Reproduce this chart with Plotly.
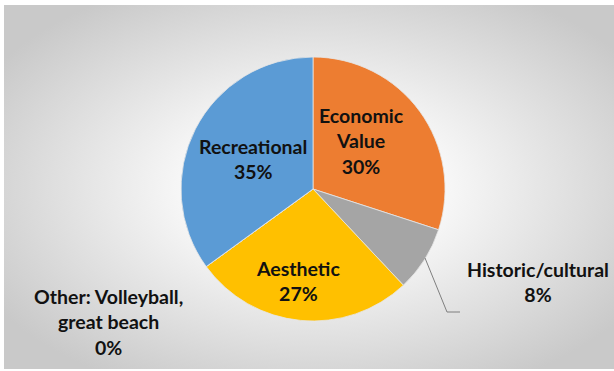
import base64
import plotly.graph_objects as go

# Survey shares by value category
categories = ["Economic Value", "Historic/cultural", "Aesthetic",
              "Other: Volleyball, great beach", "Recreational"]
shares = [30, 8, 27, 0, 35]
label_lines = [["Economic", "Value"], ["Historic/cultural"], ["Aesthetic"],
               ["Other: Volleyball,", "great beach"], ["Recreational"]]
colors = ["#ED7D31", "#A5A5A5", "#FFC000", "#4472C4", "#5B9BD5"]

W, H = 614, 371
cx, cy, r = 313, 189, 132  # pie centre / radius in pixels

# Soft radial-gradient backdrop for the chart area
svg = f"""<svg xmlns='http://www.w3.org/2000/svg' width='610' height='364' viewBox='0 0 610 364' preserveAspectRatio='none'>
<defs><radialGradient id='g' cx='51%' cy='50%' r='62%'>
<stop offset='0%' stop-color='#ffffff'/>
<stop offset='35%' stop-color='#f7f7f7'/>
<stop offset='100%' stop-color='#c9c9c9'/>
</radialGradient></defs>
<rect width='610' height='364' fill='url(#g)'/>
</svg>"""
bg_src = "data:image/svg+xml;base64," + base64.b64encode(svg.encode()).decode()

fig = go.Figure()
fig.add_trace(go.Pie(
    labels=categories,
    values=shares,
    sort=False,
    direction="clockwise",
    rotation=0,
    marker=dict(colors=colors, line=dict(color="#e6e6e6", width=0.8)),
    textinfo="none",
    hoverinfo="label+percent",
    showlegend=False,
    domain=dict(x=[(cx - r) / W, (cx + r) / W],
                y=[(H - cy - r) / H, (H - cy + r) / H]),
))

# Data label positions (pixel centres)
label_pos = [(361, 141), (538, 282), (298, 281), (108, 322), (253, 159)]
font = dict(family="Lato, 'Open Sans', sans-serif", size=19.5, color="#111111")
for lines, val, (px, py) in zip(label_lines, shares, label_pos):
    text = "<br>".join(f"<b>{s}</b>" for s in lines + [f"{val}%"])
    fig.add_annotation(x=px / W, y=1 - py / H, xref="paper", yref="paper",
                       text=text, showarrow=False, font=font,
                       xanchor="center", yanchor="middle", align="center")

# Leader line for the small slice
fig.add_shape(type="path", xref="paper", yref="paper",
              path=f"M {425 / W} {1 - 258 / H} L {447 / W} {1 - 312 / H} L {460 / W} {1 - 312 / H}",
              line=dict(color="#7f7f7f", width=1))

fig.add_layout_image(dict(source=bg_src, xref="paper", yref="paper",
                          x=4 / W, y=1 - 5 / H, sizex=(W - 4) / W, sizey=(H - 7) / H,
                          xanchor="left", yanchor="top", sizing="stretch", layer="below"))

fig.update_layout(width=W, height=H, margin=dict(l=0, r=0, t=0, b=0),
                  paper_bgcolor="white", plot_bgcolor="white")

fig.write_html("out.html")
